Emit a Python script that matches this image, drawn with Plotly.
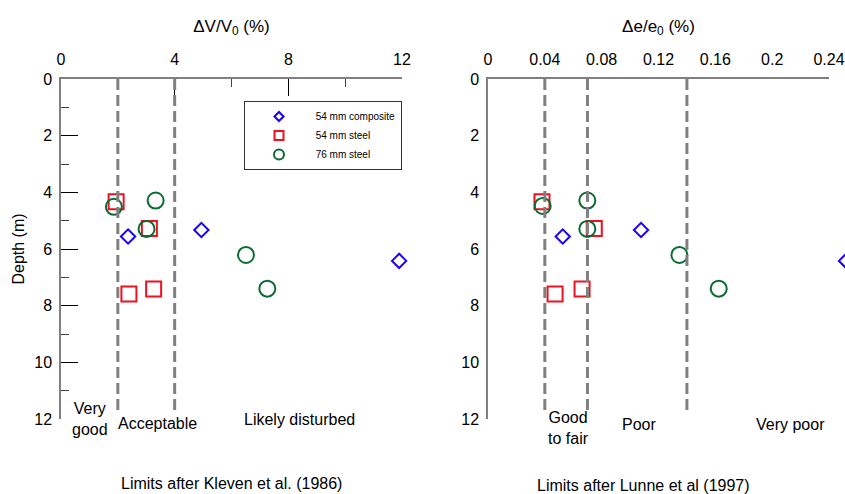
import plotly.graph_objects as go

# ---------------- data ----------------
series_names = ["54 mm composite", "54 mm steel", "76 mm steel"]

# Left panel: volumetric strain dV/V0 (%) vs depth (m)
comp_dv = [2.36, 4.94, 11.9]
comp_dv_depth = [5.56, 5.33, 6.42]
steel54_dv = [1.94, 3.11, 2.39, 3.26]
steel54_dv_depth = [4.33, 5.28, 7.59, 7.41]
steel76_dv = [1.86, 3.33, 3.01, 6.51, 7.26]
steel76_dv_depth = [4.51, 4.29, 5.29, 6.21, 7.40]

# Right panel: de/e0 (%) vs depth (m)
comp_de = [0.0526, 0.1077, 0.252]
comp_de_depth = [5.56, 5.33, 6.42]
steel54_de = [0.038, 0.0748, 0.0472, 0.0662]
steel54_de_depth = [4.33, 5.28, 7.59, 7.41]
steel76_de = [0.0385, 0.0699, 0.0699, 0.1347, 0.1624]
steel76_de_depth = [4.48, 4.29, 5.29, 6.21, 7.40]

# Quality limits
kleven_limits = [2, 4]
lunne_limits = [0.04, 0.07, 0.14]

left_ticks = [0, 4, 8, 12]
right_ticks = [0, 0.04, 0.08, 0.12, 0.16, 0.2, 0.24]
right_ticktext = ["0", "0.04", "0.08", "0.12", "0.16", "0.2", "0.24"]
depth_ticks = [0, 2, 4, 6, 8, 10, 12]

# ---------------- styling ----------------
FONT = "Liberation Sans, Arial, Helvetica, sans-serif"
colors = ["#1a00ff", "#ee1122", "#0b6b35"]
symbols = ["diamond-open", "square-open", "circle-open"]
sizes = [11, 15, 16]
W, H = 845, 494

def px(x):
    return x / W

def py(y):
    return 1 - y / H

xd1 = [px(61), px(402)]
xd2 = [px(488), px(829)]
xd3 = [px(488), 1.0]
yd = [py(419), py(79)]

fig = go.Figure()

left = [(comp_dv, comp_dv_depth), (steel54_dv, steel54_dv_depth), (steel76_dv, steel76_dv_depth)]
right = [(comp_de, comp_de_depth), (steel54_de, steel54_de_depth), (steel76_de, steel76_de_depth)]

for i in range(3):
    fig.add_trace(go.Scatter(
        x=left[i][0], y=left[i][1], mode="markers", xaxis="x", yaxis="y",
        marker=dict(symbol=symbols[i], size=sizes[i], color=colors[i], line=dict(width=2, color=colors[i])),
        showlegend=False, name=series_names[i], cliponaxis=False))
for i in range(3):
    fig.add_trace(go.Scatter(
        x=right[i][0], y=right[i][1], mode="markers", xaxis="x3", yaxis="y2",
        marker=dict(symbol=symbols[i], size=sizes[i], color=colors[i], line=dict(width=2, color=colors[i])),
        showlegend=False, name=series_names[i]))
# legend entries (smaller symbols as in the reference)
for i in range(3):
    fig.add_trace(go.Scatter(
        x=[None], y=[None], mode="markers", xaxis="x", yaxis="y",
        marker=dict(symbol=symbols[i], size=[7, 9, 10][i], color=colors[i], line=dict(width=2, color=colors[i])),
        name="\u00a0" * 6 + series_names[i], showlegend=True))

# dashed limit lines
for v in kleven_limits:
    fig.add_shape(type="line", xref="x", yref="y", x0=v, x1=v, y0=0, y1=11.7,
                  line=dict(color="#808080", width=3, dash="11px,5px"))
for v in lunne_limits:
    fig.add_shape(type="line", xref="x2", yref="y2", x0=v, x1=v, y0=0, y1=11.7,
                  line=dict(color="#808080", width=3, dash="11px,5px"))

axis_common = dict(
    showgrid=False, zeroline=False, showline=True, linecolor="#808080", linewidth=1.5,
    ticks="inside", ticklen=17, tickwidth=1.2, tickcolor="black", automargin=False,
    tickfont=dict(family=FONT, size=16, color="black"),
)
minor_common = dict(ticks="inside", ticklen=8, tickcolor="#444", tickwidth=1.2)

fig.update_layout(
    width=W, height=H,
    margin=dict(l=0, r=0, t=0, b=0, autoexpand=False),
    paper_bgcolor="white", plot_bgcolor="white",
    font=dict(family=FONT, color="black"),
    xaxis=dict(domain=xd1, range=[0, 12], side="top", anchor="y",
               tickvals=left_ticks, ticktext=[str(t) for t in left_ticks],
               minor=dict(dtick=2, tick0=0, **minor_common), ticklabelstandoff=6,
               title=dict(text="ΔV/V<sub>0</sub> (%)", font=dict(family=FONT, size=17), standoff=14),
               **axis_common),
    yaxis=dict(domain=yd, range=[12, 0], anchor="x",
               tickvals=depth_ticks, ticklabelstandoff=4,
               minor=dict(dtick=1, tick0=0, **minor_common),
               title=dict(text="Depth (m)", font=dict(family=FONT, size=16), standoff=6),
               **axis_common),
    xaxis2=dict(domain=xd2, range=[0, 0.24], side="top", anchor="y2",
                tickvals=right_ticks, ticktext=right_ticktext, ticklabelstandoff=6,
                minor=dict(dtick=0.02, tick0=0, **minor_common),
                title=dict(text="Δe/e<sub>0</sub> (%)", font=dict(family=FONT, size=17), standoff=14),
                **axis_common),
    yaxis2=dict(domain=yd, range=[12, 0], anchor="x2",
                tickvals=depth_ticks, ticklabelstandoff=4,
                minor=dict(dtick=1, tick0=0, **minor_common),
                **axis_common),
    xaxis3=dict(domain=xd3, range=[0, 0.24 * (W - 488) / 341], anchor="y2", visible=False),
    legend=dict(x=px(244), y=py(101), xanchor="left", yanchor="top",
                bordercolor="#333", borderwidth=1, bgcolor="white",
                font=dict(family=FONT, size=10), itemwidth=30, tracegroupgap=0,
                indentation=14),
)

ann = [
    ("Very<br>good", 90, 419),
    ("Acceptable", 157, 423),
    ("Likely disturbed", 299, 419),
    ("Limits after Kleven et al. (1986)", 232, 483),
    ("Good<br>to fair", 568, 428),
    ("Poor", 639, 424),
    ("Very poor", 790, 424),
    ("Limits after Lunne et al (1997)", 643, 485),
]
for text, x, y in ann:
    fig.add_annotation(text=text, x=px(x), y=py(y), xref="paper", yref="paper",
                       showarrow=False, xanchor="center", yanchor="middle",
                       font=dict(family=FONT, size=16, color="black"))

fig.write_html("out.html", config={"displayModeBar": False},
               post_script="document.body.style.margin='0';document.body.style.padding='0';")
